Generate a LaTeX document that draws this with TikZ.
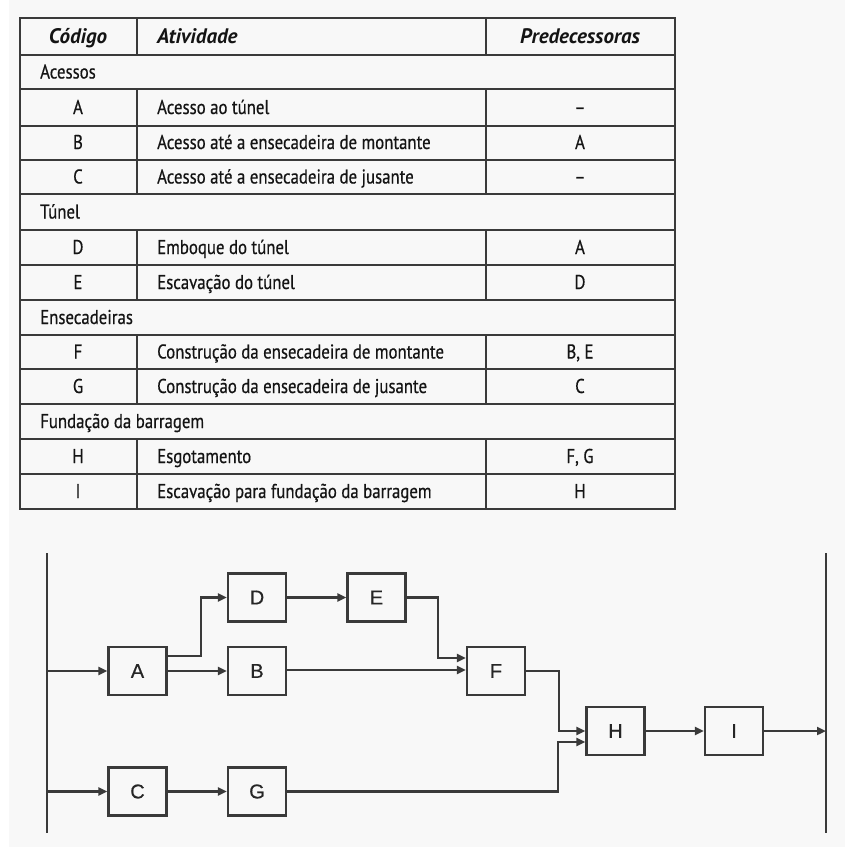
\documentclass[tikz,border=0pt]{standalone}
\usepackage{fontspec}
\setmainfont{Liberation Sans}
\newfontfamily\tabfont[FakeStretch=0.84,FakeBold=0.5]{PT Sans}
\newfontfamily\hdfont{PT Sans}
\newfontfamily\boxfont[FakeBold=0.6]{Liberation Sans}
\usetikzlibrary{arrows.meta}
\definecolor{ln}{HTML}{3A3A3A}
\definecolor{bgc}{HTML}{F8F8F8}
\begin{document}
\begin{tikzpicture}[x=1pt,y=-1pt,
  tline/.style={draw=ln,line width=2pt},
  tx/.style={font=\tabfont\fontsize{20}{20}\selectfont, text=black!92, inner sep=0pt, anchor=base west},
  txc/.style={tx, anchor=base},
  hd/.style={txc, font=\hdfont\bfseries\itshape\fontsize{21}{21}\selectfont},
  act/.style={draw=ln, line width=2.2pt, minimum width=58pt, minimum height=48pt, inner sep=0pt,
    font=\boxfont\fontsize{20}{20}\selectfont, text=black!85},
  conn/.style={draw=ln, line width=2.2pt, -{Triangle[length=9pt,width=8pt]}},
  bar/.style={draw=ln, line width=2.4pt}
]
\useasboundingbox (0,0) rectangle (845,847);
\fill[bgc] (0,0) rectangle (845,847);
\fill[white] (0,0) rectangle (9,847);

% ---------- table ----------
\draw[tline] (20,18) rectangle (675,509);
\foreach \yy in {55,89,126,160,194,230,265,300,335,369,404,439,474}
  \draw[tline] (20,\yy) -- (675,\yy);
\foreach \ya/\yb in {18/55,89/194,230/300,335/404,439/509}{
  \draw[tline] (137,\ya) -- (137,\yb);
  \draw[tline] (486,\ya) -- (486,\yb);
}
% header
\node[hd] (h1) at (78,43) {Código};
\node[hd, anchor=base west] (h2) at (157,43) {Atividade};
\node[hd] (h3) at (580,43) {Predecessoras};
% sections
\node[tx] (s1) at (40,78.5) {Acessos};
\node[tx] (s2) at (40,218.5) {Túnel};
\node[tx] (s3) at (40,324) {Ensecadeiras};
\node[tx] (s4) at (40,428) {Fundação da barragem};
% codes
\node[txc] (cA) at (78,114) {A};
\node[txc] (cB) at (78,149) {B};
\node[txc] (cC) at (78,183.5) {C};
\node[txc] (cD) at (78,254) {D};
\node[txc] (cE) at (78,289) {E};
\node[txc] (cF) at (78,358.5) {F};
\node[txc] (cG) at (78,393) {G};
\node[txc] (cH) at (78,463) {H};
\node[txc] (cI) at (78,498) {I};
% activities
\node[tx] (aA) at (157,114) {Acesso ao túnel};
\node[tx] (aB) at (157,149) {Acesso até a ensecadeira de montante};
\node[tx] (aC) at (157,183.5) {Acesso até a ensecadeira de jusante};
\node[tx] (aD) at (157,254) {Emboque do túnel};
\node[tx] (aE) at (157,289) {Escavação do túnel};
\node[tx] (aF) at (157,358.5) {Construção da ensecadeira de montante};
\node[tx] (aG) at (157,393) {Construção da ensecadeira de jusante};
\node[tx] (aH) at (157,463) {Esgotamento};
\node[tx] (aI) at (157,498) {Escavação para fundação da barragem};
% predecessors
\node[txc] (pA) at (580,114) {–};
\node[txc] (pB) at (580,149) {A};
\node[txc] (pC) at (580,183.5) {–};
\node[txc] (pD) at (580,254) {A};
\node[txc] (pE) at (580,289) {D};
\node[txc] (pF) at (580,358.5) {B, E};
\node[txc] (pG) at (580,393) {C};
\node[txc] (pH) at (580,463) {F, G};
\node[txc] (pI) at (580,498) {H};

% ---------- network ----------
\coordinate (Lt) at (47,553);
\coordinate (Lb) at (47,833);
\coordinate (Rt) at (826,553);
\coordinate (Rb) at (826,833);
\draw[bar] (Lt) -- (Lb);
\draw[bar] (Rt) -- (Rb);

\node[act] (A) at (137.5,671) {A};
\node[act] (B) at (257,671) {B};
\node[act] (C) at (137.5,791.5) {C};
\node[act] (D) at (257,597.5) {D};
\node[act] (E) at (376.5,597.5) {E};
\node[act] (F) at (496,671) {F};
\node[act] (G) at (257,791.5) {G};
\node[act] (H) at (615.5,731) {H};
\node[act] (I) at (734,731) {I};

\draw[conn] (Lt |- A.west) -- (A.west);
\draw[conn] (Lt |- C.west) -- (C.west);
\draw[conn] ([yshift=15pt]A.east) -- ++(33,0) |- (D.west);
\draw[conn] (A.east) -- (B.west);
\draw[conn] (C.east) -- (G.west);
\draw[conn] (D.east) -- (E.west);
\draw[conn] (E.east) -- ++(31,0) |- ([yshift=13pt]F.west);
\draw[conn] ([yshift=1pt]B.east) -- ([yshift=1pt]F.west);
\draw[conn] (F.east) -- ++(33,0) |- (H.west);
\draw[conn] (G.east) -- ++(271,0) |- ([yshift=-11pt]H.west);
\draw[conn] (H.east) -- (I.west);
\draw[conn] (I.east) -- (I.east -| Rt);
\end{tikzpicture}
\end{document}
